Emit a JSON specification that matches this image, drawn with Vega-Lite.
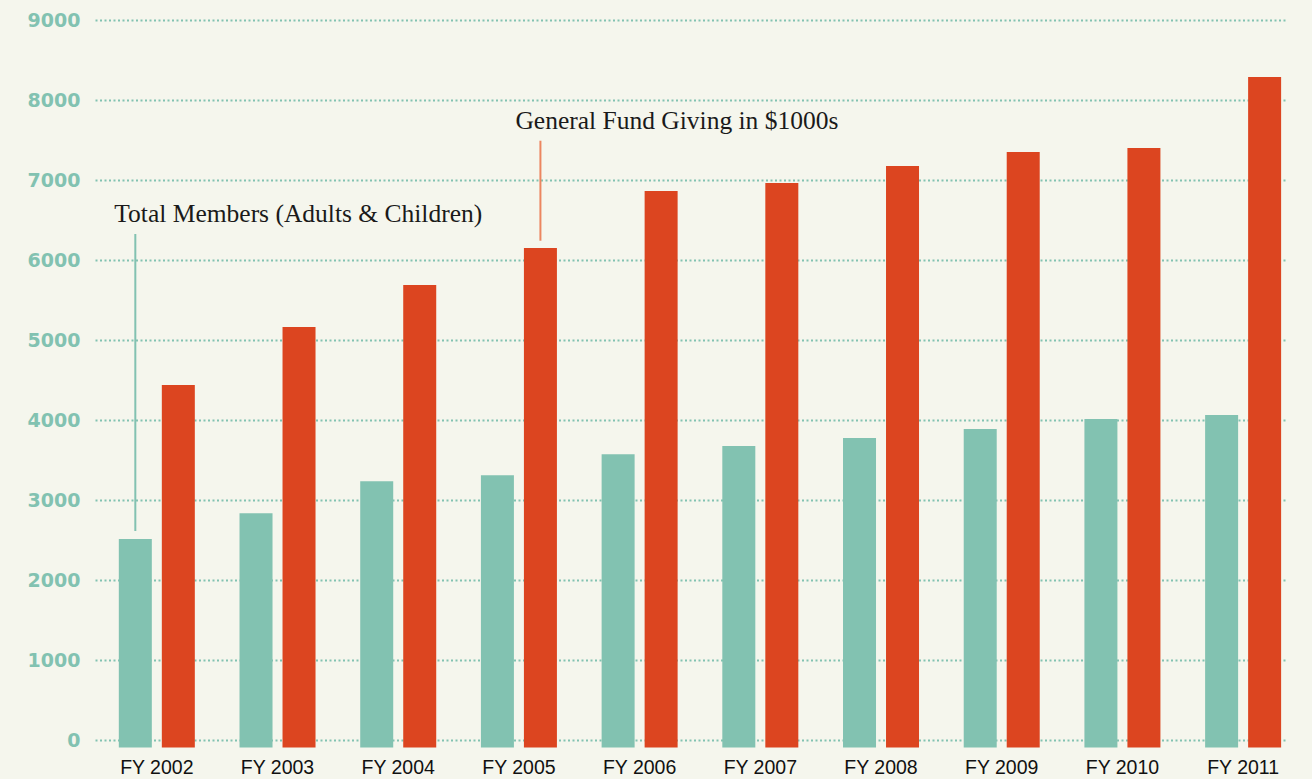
{
  "$schema": "https://vega.github.io/schema/vega-lite/v6.json",
  "width": 1191,
  "height": 720,
  "autosize": {"type": "none"},
  "padding": {"left": 95, "top": 20, "right": 26, "bottom": 39},
  "background": "#f5f6ed",
  "config": {"view": {"stroke": null}},
  "data": {
    "values": [
      {"year": "FY 2002", "series": "Members", "value": 2512},
      {"year": "FY 2003", "series": "Members", "value": 2835},
      {"year": "FY 2004", "series": "Members", "value": 3235},
      {"year": "FY 2005", "series": "Members", "value": 3310},
      {"year": "FY 2006", "series": "Members", "value": 3573},
      {"year": "FY 2007", "series": "Members", "value": 3674},
      {"year": "FY 2008", "series": "Members", "value": 3775},
      {"year": "FY 2009", "series": "Members", "value": 3887},
      {"year": "FY 2010", "series": "Members", "value": 4012},
      {"year": "FY 2011", "series": "Members", "value": 4062},
      {"year": "FY 2002", "series": "Giving", "value": 4437},
      {"year": "FY 2003", "series": "Giving", "value": 5162},
      {"year": "FY 2004", "series": "Giving", "value": 5687},
      {"year": "FY 2005", "series": "Giving", "value": 6150},
      {"year": "FY 2006", "series": "Giving", "value": 6862},
      {"year": "FY 2007", "series": "Giving", "value": 6962},
      {"year": "FY 2008", "series": "Giving", "value": 7175},
      {"year": "FY 2009", "series": "Giving", "value": 7350},
      {"year": "FY 2010", "series": "Giving", "value": 7400},
      {"year": "FY 2011", "series": "Giving", "value": 8287}
    ]
  },
  "encoding": {
    "x": {
      "field": "year",
      "type": "nominal",
      "scale": {"paddingInner": 0.3703, "paddingOuter": 0.1189, "align": 0.83, "round": false},
      "axis": {
        "title": null,
        "labelAngle": 0,
        "domain": false,
        "ticks": false,
        "labelPadding": 18,
        "labelFont": "Liberation Sans",
        "labelFontSize": 19.5,
        "labelColor": "#111111"
      }
    },
    "xOffset": {
      "field": "series",
      "type": "nominal",
      "sort": ["Members", "Giving"],
      "scale": {"domain": ["Members", "Giving"], "paddingInner": 0.2326, "paddingOuter": 0, "round": false}
    }
  },
  "layer": [
    {
      "mark": {"type": "bar"},
      "encoding": {
        "y": {
          "field": "value",
          "type": "quantitative",
          "scale": {"domain": [0, 9000], "nice": false, "zero": true},
          "axis": {
            "title": null,
            "format": "d",
            "values": [0, 1000, 2000, 3000, 4000, 5000, 6000, 7000, 8000, 9000],
            "grid": true,
            "gridColor": "#82c2b1",
            "gridDash": [2, 2.5],
            "gridWidth": 2,
            "gridOpacity": 1,
            "domain": false,
            "ticks": false,
            "labelPadding": 15,
            "labelFont": "DejaVu Sans",
            "labelFontWeight": "bold",
            "labelFontSize": 19,
            "labelColor": "#82c2b1"
          }
        },
        "y2": {"datum": -95},
        "color": {
          "field": "series",
          "type": "nominal",
          "scale": {"domain": ["Members", "Giving"], "range": ["#82c2b1", "#dc4520"]},
          "legend": null
        }
      }
    },
    {
      "data": {"values": [{"label": "Total Members (Adults & Children)"}]},
      "mark": {"type": "rule", "color": "#82c2b1", "strokeWidth": 2},
      "encoding": {
        "x": {"datum": "FY 2002"},
        "xOffset": {"datum": "Members"},
        "y": {"datum": 2612},
        "y2": {"datum": 6325}
      }
    },
    {
      "data": {"values": [{"label": "Total Members (Adults & Children)"}]},
      "mark": {"type": "text", "align": "left", "baseline": "alphabetic", "dx": -21, "font": "Liberation Serif", "fontSize": 25.5, "color": "#1a1a1a"},
      "encoding": {
        "x": {"datum": "FY 2002"},
        "xOffset": {"datum": "Members"},
        "y": {"datum": 6469},
        "text": {"field": "label"}
      }
    },
    {
      "data": {"values": [{"label": "General Fund Giving in $1000s"}]},
      "mark": {"type": "rule", "color": "#ec8660", "strokeWidth": 2},
      "encoding": {
        "x": {"datum": "FY 2005"},
        "xOffset": {"datum": "Giving"},
        "y": {"datum": 6241},
        "y2": {"datum": 7491}
      }
    },
    {
      "data": {"values": [{"label": "General Fund Giving in $1000s"}]},
      "mark": {"type": "text", "align": "left", "baseline": "alphabetic", "dx": -25, "font": "Liberation Serif", "fontSize": 25.5, "color": "#1a1a1a"},
      "encoding": {
        "x": {"datum": "FY 2005"},
        "xOffset": {"datum": "Giving"},
        "y": {"datum": 7637},
        "text": {"field": "label"}
      }
    }
  ]
}
